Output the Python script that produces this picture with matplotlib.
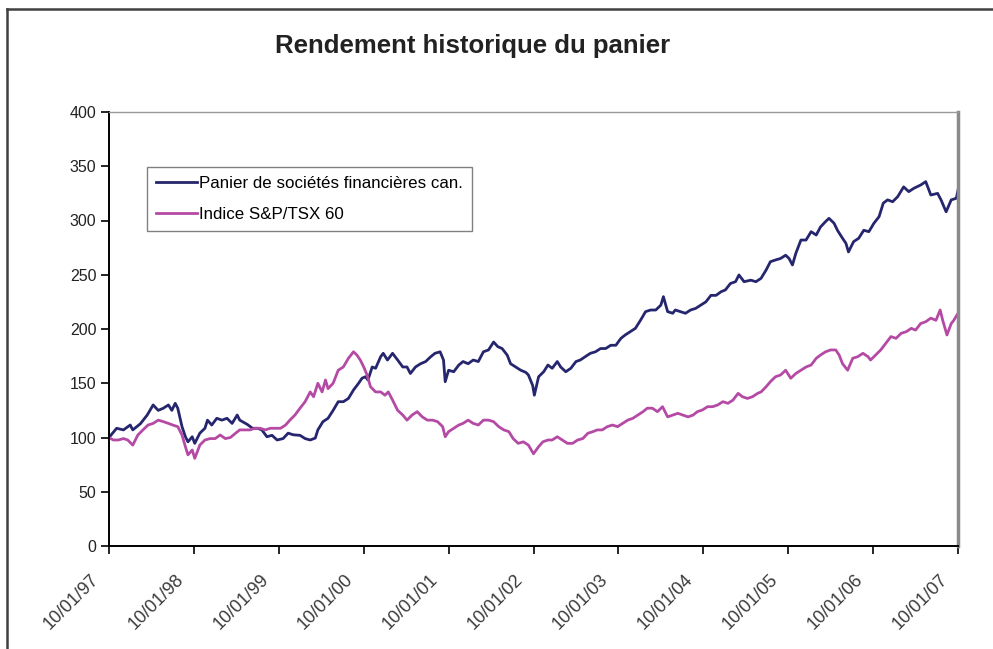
import matplotlib
matplotlib.use("Agg")
import matplotlib.pyplot as plt
import matplotlib.transforms as mtransforms
from matplotlib.lines import Line2D

# years elapsed since 10/01/97 and index levels (base 100)
panier_t = [
    0.00, 0.09, 0.17, 0.25, 0.28, 0.37, 0.45, 0.52, 0.58, 0.64, 0.70, 0.74, 0.78, 0.81, 0.86, 0.90,
    0.93, 0.98, 1.01, 1.07, 1.13, 1.16, 1.21, 1.27, 1.33, 1.39, 1.45, 1.51, 1.54, 1.63, 1.69, 1.75,
    1.80, 1.86, 1.92, 1.98, 2.05, 2.11, 2.17, 2.25, 2.31, 2.37, 2.43, 2.46, 2.52, 2.58, 2.64, 2.70,
    2.76, 2.82, 2.88, 2.94, 2.98, 3.02, 3.05, 3.10, 3.14, 3.20, 3.23, 3.28, 3.34, 3.40, 3.46, 3.51,
    3.55, 3.61, 3.67, 3.73, 3.79, 3.84, 3.90, 3.94, 3.96, 4.00, 4.06, 4.12, 4.17, 4.23, 4.29, 4.35,
    4.41, 4.47, 4.53, 4.58, 4.63, 4.69, 4.73, 4.79, 4.85, 4.91, 4.94, 4.99, 5.01, 5.06, 5.12, 5.17,
    5.22, 5.28, 5.32, 5.38, 5.44, 5.50, 5.55, 5.61, 5.67, 5.73, 5.79, 5.85, 5.91, 5.97, 6.03, 6.08,
    6.14, 6.20, 6.26, 6.32, 6.38, 6.44, 6.50, 6.53, 6.58, 6.64, 6.67, 6.73, 6.79, 6.85, 6.91, 6.97,
    7.03, 7.09, 7.15, 7.21, 7.26, 7.32, 7.38, 7.42, 7.48, 7.56, 7.62, 7.68, 7.74, 7.79, 7.85, 7.91,
    7.97, 8.01, 8.05, 8.09, 8.15, 8.21, 8.27, 8.33, 8.38, 8.44, 8.48, 8.54, 8.58, 8.64, 8.68, 8.71,
    8.77, 8.83, 8.89, 8.95, 9.01, 9.07, 9.12, 9.17, 9.23, 9.29, 9.36, 9.42, 9.48, 9.56, 9.62, 9.68,
    9.76, 9.80, 9.86, 9.92, 9.98, 10.00,
]
panier = [
    100, 108.5, 107, 111.5, 107, 112.7, 120.7, 130, 125, 127, 130, 125, 131.5, 127, 110, 100.7,
    96, 100.7, 94.6, 104, 108.5, 116, 111.5, 117.7, 116, 117.7, 113, 120.7, 116, 112, 108.5, 108.5,
    107, 100.7, 102, 97.7, 99, 104, 102.5, 102, 99, 97.7, 99.5, 107, 114.6, 117.7, 125, 133,
    133, 136, 143.8, 150, 154.6, 156, 153, 165, 163.8, 174.5, 177.6, 171.4, 177.6, 171.4, 165, 165,
    159, 165, 168, 170, 174.5, 177.6, 179, 171.4, 151.4, 162, 160.6, 166.8, 170, 168, 171.4, 170,
    179, 180.7, 188, 183.7, 182, 176, 168, 165, 162, 160, 157.6, 148, 139, 156, 160.6, 166.8,
    163.8, 170, 165, 160.6, 163.8, 170, 171.4, 174.5, 177.6, 179, 182, 182, 185, 185, 191.4, 194.5,
    197.5, 200.6, 208, 216, 217.5, 217.5, 222, 229.8, 216, 214.5, 217.5, 216, 214.5, 217.5, 219, 222,
    225, 231, 231, 234.4, 236, 242, 243.6, 249.8, 243.6, 245, 243.6, 246.7, 254.4, 262, 263.6, 265,
    268, 265, 259, 269.8, 282, 282, 289.7, 286.6, 294, 299, 302, 297.5, 291, 283.6, 279, 271,
    280.5, 283.6, 291, 289.7, 297.5, 303.5, 316, 319, 317.3, 322, 331, 326.6, 329.7, 332.7, 335.8, 323.5,
    325, 319, 308, 319, 320.5, 328,
]

indice_t = [
    0.00, 0.05, 0.11, 0.17, 0.22, 0.28, 0.34, 0.40, 0.46, 0.52, 0.58, 0.64, 0.70, 0.75, 0.81, 0.86,
    0.90, 0.93, 0.98, 1.01, 1.07, 1.13, 1.19, 1.25, 1.31, 1.37, 1.43, 1.49, 1.54, 1.60, 1.66, 1.72,
    1.78, 1.84, 1.90, 1.96, 2.02, 2.08, 2.13, 2.19, 2.25, 2.31, 2.37, 2.41, 2.46, 2.51, 2.55, 2.58,
    2.64, 2.70, 2.76, 2.82, 2.88, 2.92, 2.96, 3.00, 3.04, 3.08, 3.14, 3.20, 3.25, 3.29, 3.34, 3.40,
    3.46, 3.51, 3.57, 3.63, 3.69, 3.75, 3.81, 3.87, 3.93, 3.96, 4.00, 4.06, 4.12, 4.17, 4.23, 4.29,
    4.35, 4.41, 4.47, 4.53, 4.59, 4.65, 4.71, 4.76, 4.82, 4.88, 4.94, 5.00, 5.06, 5.11, 5.17, 5.22,
    5.28, 5.34, 5.40, 5.46, 5.52, 5.58, 5.64, 5.70, 5.75, 5.81, 5.87, 5.93, 5.99, 6.05, 6.11, 6.17,
    6.23, 6.29, 6.34, 6.40, 6.46, 6.52, 6.58, 6.64, 6.70, 6.76, 6.82, 6.88, 6.93, 6.99, 7.05, 7.11,
    7.17, 7.23, 7.29, 7.35, 7.41, 7.46, 7.52, 7.58, 7.64, 7.68, 7.74, 7.79, 7.85, 7.91, 7.97, 8.03,
    8.09, 8.15, 8.21, 8.27, 8.33, 8.38, 8.44, 8.50, 8.56, 8.60, 8.64, 8.70, 8.76, 8.82, 8.88, 8.94,
    8.97, 9.03, 9.09, 9.15, 9.21, 9.27, 9.33, 9.39, 9.45, 9.50, 9.56, 9.62, 9.68, 9.74, 9.79, 9.82,
    9.87, 9.92, 9.95, 10.00,
]
indice = [
    100, 97.7, 97.7, 99, 97.7, 93, 102.3, 107, 111.5, 113, 116, 114.6, 113, 111.5, 110, 102.3,
    91.5, 84, 88.5, 80.8, 93, 97.7, 99, 99, 102.3, 99, 100, 103.9, 107, 107, 107, 108.5,
    108.5, 107, 108.5, 108.5, 108.5, 111.5, 116, 120.7, 127, 133, 142, 137.6, 150, 142, 153, 145,
    150, 162, 165, 173, 179, 176, 171.4, 165, 157.6, 146.8, 142, 142, 139, 142, 134.5, 125,
    120.7, 116, 120.7, 123.8, 119, 116, 116, 114.6, 110, 100.7, 105.4, 108.5, 111.5, 113, 116, 113,
    111.5, 116, 116, 114.6, 110, 107, 105.4, 99, 94.6, 96, 93, 85, 91.5, 96, 97.7, 97.7,
    100.7, 97.7, 94.6, 94.6, 97.7, 99, 103.9, 105.4, 107, 107, 110, 111.5, 110, 113, 116, 117.7,
    120.7, 123.8, 127, 127, 123.8, 128.4, 119, 120.7, 122.3, 120.7, 119, 120.7, 123.8, 125.4, 128.4, 128.4,
    130, 133, 131.5, 134.5, 140.7, 137.6, 136, 137.6, 140.7, 142, 146.8, 151.4, 156, 157.6, 162, 154.6,
    159, 162, 165, 166.8, 173, 176, 179, 180.7, 180.7, 176, 168, 162, 173, 174.5, 177.6, 174.5,
    171.4, 176, 180.7, 186.8, 193, 191.4, 196, 197.5, 200.6, 199, 205, 206.7, 210, 208, 217.5, 208,
    194.5, 205, 208, 214.5,
]

date_labels = ["10/01/97", "10/01/98", "10/01/99", "10/01/00", "10/01/01", "10/01/02",
               "10/01/03", "10/01/04", "10/01/05", "10/01/06", "10/01/07"]
y_ticks = [0, 50, 100, 150, 200, 250, 300, 350, 400]

plt.rcParams['font.family'] = ['Liberation Sans', 'DejaVu Sans']

fig = plt.figure(figsize=(9.93, 6.49), dpi=100)
ax = fig.add_axes([109 / 993, 103 / 649, 849 / 993, 434 / 649])

ax.plot(panier_t, panier, color='#26266e', lw=2.0, label="Panier de sociétés financières can.")
ax.plot(indice_t, indice, color='#b54aa5', lw=2.0, label="Indice S&P/TSX 60")

ax.set_xlim(0, 10)
ax.set_ylim(0, 400)
ax.set_yticks(y_ticks)
ax.set_yticklabels([str(v) for v in y_ticks], fontsize=11.5, color='#222222')
ax.set_xticks(range(len(date_labels)))
ax.tick_params(axis='x', labelbottom=False)

# date labels hang below-left of their ticks, like the spreadsheet original
shift = mtransforms.ScaledTranslation(-19 / 100, -25 / 100, fig.dpi_scale_trans)
for i, lab in enumerate(date_labels):
    ax.text(i, 0, lab, transform=ax.get_xaxis_transform() + shift, rotation=45,
            ha='right', va='top', rotation_mode='anchor', fontsize=13, color='#3a3a3a',
            clip_on=False)

ax.tick_params(axis='both', direction='out', length=6, width=1.2, color='black', pad=3)
for s in ['left', 'bottom']:
    ax.spines[s].set_color('black')
    ax.spines[s].set_linewidth(1.4)
ax.spines['top'].set_color('#9a9a9a')
ax.spines['top'].set_linewidth(1.0)
ax.spines['right'].set_color('#8a8a8a')
ax.spines['right'].set_linewidth(2.5)

leg = ax.legend(loc='upper left', bbox_to_anchor=(38 / 849, 379 / 434), borderaxespad=0,
                fancybox=False, edgecolor='#808080', framealpha=1, handlelength=2.4,
                handletextpad=0.1, borderpad=0.55, labelspacing=0.9, fontsize=12.2)
leg.get_frame().set_linewidth(1.0)

fig.text(473 / 993, 1 - 46 / 649, "Rendement historique du panier", ha='center', va='center',
         fontsize=18.5, fontweight='bold', color='#222222')

# outer border of the chart (left and top only, as cropped in the reference)
fig.add_artist(Line2D([7 / 993, 7 / 993], [0, 1 - 9 / 649], transform=fig.transFigure,
                      color='#404040', lw=1.8))
fig.add_artist(Line2D([7 / 993, 1], [1 - 9 / 649, 1 - 9 / 649], transform=fig.transFigure,
                      color='#404040', lw=1.8))

fig.savefig("out.png", dpi=100, facecolor='white')
